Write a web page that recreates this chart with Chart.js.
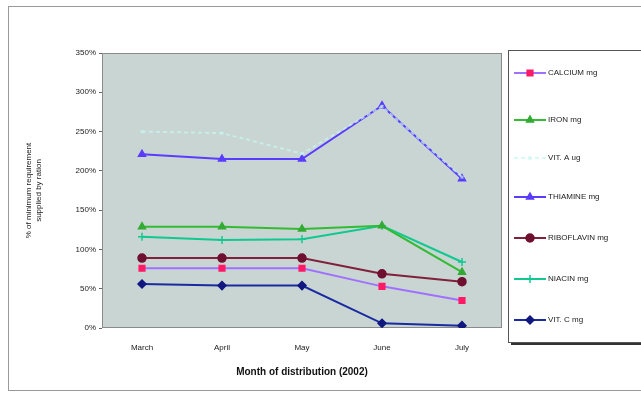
<!DOCTYPE html>
<html>
<head>
<meta charset="utf-8">
<script src="https://cdn.jsdelivr.net/npm/chart.js@4/dist/chart.umd.min.js"></script>
<style>
    html, body { margin: 0; padding: 0; background: #ffffff; }
    #wrap { position: relative; width: 641px; height: 394px; }
</style>
</head>
<body>
<div id="wrap"><canvas id="nutrient-chart" width="641" height="394"></canvas></div>
<script>
const months = ['March', 'April', 'May', 'June', 'July'];
const yTicks = [0, 50, 100, 150, 200, 250, 300, 350];

const calcium = [76, 76, 76, 53, 35];
const iron = [129, 129, 126, 130, 71];
const vitA = [250, 248, 222, 282, 192];
const thiamine = [221, 215, 215, 283, 190];
const riboflavin = [89, 89, 89, 69, 59];
const niacin = [116, 112, 113, 130, 84];
const vitC = [56, 54, 54, 6, 3];

const seriesNames = ['CALCIUM mg', 'IRON mg', 'VIT. A ug', 'THIAMINE mg', 'RIBOFLAVIN mg', 'NIACIN mg', 'VIT. C mg'];

const FONT = "'Liberation Sans', Arial, sans-serif";

function makeSeries(label, data, lineColor, markerColor, pointStyle, dash, radius) {
    return {
        label: label,
        data: data,
        borderColor: lineColor,
        backgroundColor: markerColor,
        pointBackgroundColor: markerColor,
        pointBorderColor: markerColor,
        pointStyle: pointStyle,
        pointRadius: radius || 4,
        pointBorderWidth: 1.5,
        borderWidth: 2,
        borderDash: dash || [],
        tension: 0
    };
}

const datasets = [
    makeSeries(seriesNames[0], calcium, '#a070ff', '#ff1a66', 'rect'),
    makeSeries(seriesNames[1], iron, '#33bb33', '#33aa33', 'triangle'),
    makeSeries(seriesNames[2], vitA, 'rgba(200,245,240,0.7)', 'rgba(200,245,240,0.7)', 'crossRot', [4, 3], 2),
    makeSeries(seriesNames[3], thiamine, '#5a3cff', '#5a3cff', 'triangle'),
    makeSeries(seriesNames[4], riboflavin, '#80203a', '#701030', 'circle'),
    makeSeries(seriesNames[5], niacin, '#10c890', '#10c890', 'cross'),
    makeSeries(seriesNames[6], vitC, '#1a2aa0', '#101880', 'rectRot')
];

// frame, plot background and the boxed legend on the right
const framePlugin = {
    id: 'framePlugin',
    beforeDraw(chart) {
        const ctx = chart.ctx;
        const a = chart.chartArea;
        ctx.save();
        ctx.fillStyle = '#ffffff';
        ctx.fillRect(0, 0, chart.width, chart.height);
        ctx.strokeStyle = '#9a9a9a';
        ctx.lineWidth = 1;
        ctx.strokeRect(8.5, 6.5, 640, 384);
        ctx.fillStyle = 'rgb(201,213,211)';
        ctx.fillRect(a.left, a.top, a.right - a.left, a.bottom - a.top);
        ctx.strokeStyle = '#8a8a8a';
        ctx.strokeRect(a.left + 0.5, a.top + 0.5, a.right - a.left - 1, a.bottom - a.top - 1);
        ctx.restore();
    },
    afterDraw(chart) {
        const ctx = chart.ctx;
        ctx.save();
        const bx = 508, by = 50, bw = 140, bh = 292;
        ctx.fillStyle = '#333333';
        ctx.fillRect(bx + 3, by + bh, bw, 3);
        ctx.fillRect(bx + bw, by + 3, 3, bh);
        ctx.fillStyle = '#ffffff';
        ctx.fillRect(bx, by, bw, bh);
        ctx.strokeStyle = '#555555';
        ctx.lineWidth = 1;
        ctx.strokeRect(bx + 0.5, by + 0.5, bw, bh);

        const rows = [73, 120, 158, 197, 238, 279, 320];
        chart.data.datasets.forEach((ds, i) => {
            const y = rows[i];
            ctx.strokeStyle = ds.borderColor;
            ctx.lineWidth = 2;
            ctx.setLineDash(ds.borderDash);
            ctx.beginPath();
            ctx.moveTo(514, y);
            ctx.lineTo(546, y);
            ctx.stroke();
            ctx.setLineDash([]);
            ctx.fillStyle = ds.pointBackgroundColor;
            ctx.strokeStyle = ds.pointBorderColor;
            ctx.lineWidth = 1.5;
            Chart.helpers.drawPoint(ctx, { pointStyle: ds.pointStyle, radius: ds.pointRadius, rotation: 0, borderWidth: 1.5 }, 530, y);
            ctx.fillStyle = '#222222';
            ctx.font = '8px ' + FONT;
            ctx.textBaseline = 'middle';
            ctx.textAlign = 'left';
            ctx.fillText(ds.label, 548, y);
        });
        ctx.restore();
    }
};

new Chart(document.getElementById('nutrient-chart'), {
    type: 'line',
    data: {
        labels: months,
        datasets: datasets
    },
    plugins: [framePlugin],
    options: {
        responsive: false,
        animation: false,
        layout: {
            padding: { left: 24, top: 53, right: 139, bottom: 14 }
        },
        plugins: {
            legend: { display: false },
            tooltip: { enabled: false }
        },
        scales: {
            x: {
                offset: true,
                grid: { display: false, drawTicks: false },
                border: { display: false },
                ticks: {
                    color: '#222222',
                    font: { family: FONT, size: 8 },
                    padding: 15
                },
                title: {
                    display: true,
                    text: 'Month of distribution (2002)',
                    color: '#111111',
                    font: { family: FONT, size: 10, weight: 'bold' },
                    padding: { top: 6, bottom: 2 }
                },
                afterFit(scale) { scale.height = 52; }
            },
            y: {
                min: 0,
                max: 350,
                afterBuildTicks(scale) {
                    scale.ticks = yTicks.map(v => ({ value: v }));
                },
                grid: {
                    display: true,
                    drawOnChartArea: false,
                    drawTicks: true,
                    tickLength: 3,
                    color: '#666666'
                },
                border: { display: false },
                ticks: {
                    color: '#222222',
                    font: { family: FONT, size: 8 },
                    padding: 3,
                    callback: v => v + '%'
                },
                title: {
                    display: true,
                    text: ['% of minimum requirement', 'supplied by ration'],
                    color: '#1a1a1a',
                    font: { family: FONT, size: 8 },
                    padding: { top: 0, bottom: 12 }
                },
                afterFit(scale) { scale.width = 78; }
            }
        }
    }
});
</script>
</body>
</html>
